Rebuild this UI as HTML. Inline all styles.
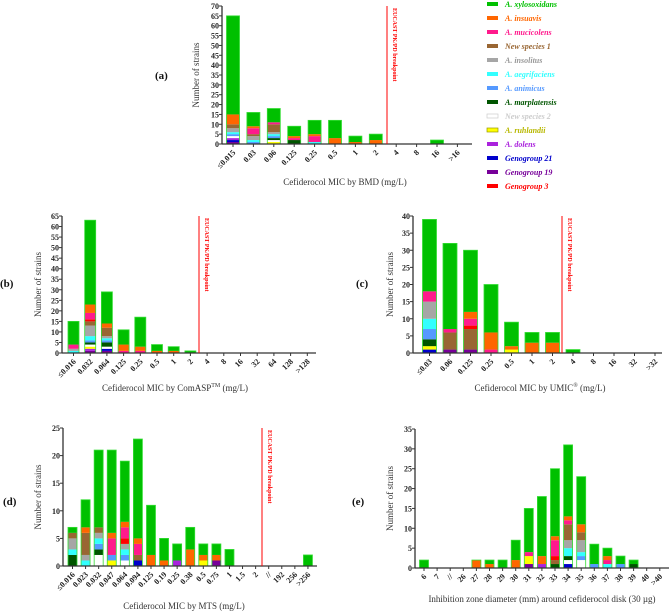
<!DOCTYPE html>
<html><head><meta charset="utf-8"><style>
html,body{margin:0;padding:0;background:#fff;}
svg{display:block;font-family:"Liberation Serif",serif;}
text{font-family:"Liberation Serif",serif;}
.tk{font-size:8px;font-weight:bold;fill:#222;}
.tt{font-size:9px;fill:#333;}
.pl{font-size:11px;font-weight:bold;fill:#111;}
.lg{font-size:8px;font-weight:bold;font-style:italic;}
.bp{font-size:6px;font-weight:bold;fill:#f00;}
</style></head><body>
<svg id="chart" width="669" height="613" viewBox="0 0 669 613" font-family="Liberation Serif, serif"></svg>
<script>
const speciesNames=["A. xylosoxidans","A. insuavis","A. mucicolens","New species 1","A. insolitus","A. aegrifaciens","A. animicus","A. marplatensis","New species 2","A. ruhlandii","A. dolens","Genogroup 21","Genogroup 19","Genogroup 3"];
const speciesColors=["#00c000","#ff6600","#ff1a8c","#996633","#a6a6a6","#33ffff","#5599ff","#005500","#ffffff","#ffff00","#aa22dd","#0000cc","#770099","#ff0000"];
const stackOrder=[12,11,10,9,8,7,6,5,4,3,13,2,1,0];

const catsA=["≤0.015","0.03","0.06","0.125","0.25","0.5","1","2","4","8","16",">16"];
const countsA=[
 [[12,1],[11,1],[10,1],[8,1],[6,1],[5,1],[4,2],[3,2],[1,5],[0,50]],
 [[6,1],[5,1],[4,2],[3,1],[2,3],[0,7],[1,1]],
 [[9,1],[8,1],[7,1],[6,1],[5,1],[4,1],[3,4],[2,1],[0,7]],
 [[7,2],[2,1],[1,1],[0,5]],
 [[5,1],[2,3],[1,1],[0,7]],
 [[1,3],[0,9]],
 [[1,1],[0,3]],
 [[1,2],[0,3]],
 [],[],[[0,2]],[]
];
const ticksA=[0,5,10,15,20,25,30,35,40,45,50,55,60,65,70];

const catsB=["≤0.016","0.032","0.064","0.125","0.25","0.5","1","2","4","8","16","32","64","128",">128"];
const countsB=[
 [[5,1],[4,1],[2,2],[0,11]],
 [[12,1],[10,1],[9,1],[8,1],[7,1],[6,1],[5,2],[4,5],[3,2],[13,1],[2,3],[1,4],[0,40]],
 [[12,1],[11,1],[8,1],[7,2],[6,1],[5,1],[4,1],[3,4],[1,2],[0,15]],
 [[2,1],[1,3],[0,7]],
 [[2,1],[1,2],[0,14]],
 [[1,1],[0,3]],
 [[1,1],[0,2]],
 [[0,1]],[],[],[],[],[],[],[]
];
const ticksB=[0,5,10,15,20,25,30,35,40,45,50,55,60,65];

const catsC=["≤0.03","0.06","0.125","0.25","0.5","1","2","4","8","16","32",">32"];
const countsC=[
 [[11,1],[9,1],[7,2],[6,3],[5,3],[4,5],[2,3],[0,21]],
 [[12,1],[3,5],[2,1],[0,25]],
 [[12,1],[3,6],[2,2],[13,1],[1,2],[0,18]],
 [[2,1],[1,5],[0,14]],
 [[9,1],[1,1],[0,7]],
 [[1,3],[0,3]],
 [[1,3],[0,3]],
 [[0,1]],[],[],[],[]
];
const ticksC=[0,5,10,15,20,25,30,35,40];

const catsD=["≤0.016","0.023","0.032","0.047","0.064","0.094","0.125","0.19","0.25","0.38","0.5","0.75","1","1.5","2","//","192","256",">256"];
const countsD=[
 [[7,2],[5,1],[4,2],[3,1],[0,1]],
 [[5,1],[4,1],[3,4],[1,1],[0,5]],
 [[8,2],[7,1],[6,1],[5,1],[4,1],[3,1],[0,14]],
 [[9,1],[6,1],[2,3],[1,1],[0,15]],
 [[8,1],[6,1],[5,1],[4,1],[2,2],[13,1],[1,1],[0,11]],
 [[11,1],[3,1],[2,2],[1,1],[0,18]],
 [[1,2],[0,9]],
 [[1,1],[0,4]],
 [[10,1],[0,3]],
 [[1,3],[0,4]],
 [[9,1],[1,1],[0,2]],
 [[12,1],[1,1],[0,2]],
 [[0,3]],[],[],[],[],[],[[0,2]]
];
const ticksD=[0,5,10,15,20,25];

const catsE=["6","7","//","26","27","28","29","30","31","32","33","34","35","36","37","38","39","40",">40"];
const countsE=[
 [[0,2]],[],[],[],
 [[1,2]],
 [[1,1],[0,1]],
 [[0,2]],
 [[1,2],[0,5]],
 [[12,1],[9,2],[2,1],[0,11]],
 [[10,1],[1,2],[0,15]],
 [[7,1],[3,1],[2,4],[13,1],[1,1],[0,17]],
 [[11,1],[8,1],[7,1],[5,2],[4,2],[3,4],[2,1],[1,1],[0,18]],
 [[8,2],[6,1],[5,1],[4,3],[3,2],[1,2],[0,12]],
 [[6,1],[0,5]],
 [[5,1],[2,1],[1,1],[0,2]],
 [[6,1],[0,2]],
 [[7,1],[0,1]],
 [],[]
];
const ticksE=[0,5,10,15,20,25,30,35];

const NS="http://www.w3.org/2000/svg";
const svg=document.getElementById('chart');
function mk(tag,attrs,parent,txt){const e=document.createElementNS(NS,tag);for(const k in attrs)e.setAttribute(k,attrs[k]);if(txt!==undefined)e.textContent=txt;(parent||svg).appendChild(e);return e;}

function panel(cfg){
  const g=mk('g',{});
  
  
  const yMax=cfg.ticks[cfg.ticks.length-1];
  const yS=v=>cfg.y0-(cfg.y0-cfg.yTop)*v/yMax;
  const xS=i=>cfg.x0c+i*cfg.step;
  cfg.counts.forEach((bar,i)=>{
    let acc=0;
    const sorted=bar.slice().sort((a,b)=>stackOrder.indexOf(a[0])-stackOrder.indexOf(b[0]));
    sorted.forEach(([sp,n])=>{
      const r=mk('rect',{x:xS(i)-cfg.bw/2,y:yS(acc+n),width:cfg.bw,height:yS(acc)-yS(acc+n),fill:speciesColors[sp]},g);
      
      
      acc+=n;
    });
    if(acc>0){const o=mk('rect',{x:xS(i)-cfg.bw/2,y:yS(acc),width:cfg.bw,height:yS(0)-yS(acc),fill:'none',stroke:'#33dd33','stroke-width':0.8},g);
      
      }
  });
  const ya=mk('line',{x1:cfg.ax,y1:cfg.yTop,x2:cfg.ax,y2:cfg.y0,stroke:'#333','stroke-width':1.3},g);
  
  const xa=mk('line',{x1:cfg.ax,y1:cfg.y0,x2:cfg.axEnd,y2:cfg.y0,stroke:'#333','stroke-width':1.3},g);
  
  cfg.ticks.forEach(t=>{
    mk('line',{x1:cfg.ax-3,y1:yS(t),x2:cfg.ax,y2:yS(t),stroke:'#333','stroke-width':1},g);
    const tl=mk('text',{x:cfg.ax-3,y:yS(t)+3,'text-anchor':'end',class:'tk'},g,String(t));
    
  });
  cfg.cats.forEach((c,i)=>{
    mk('line',{x1:xS(i),y1:cfg.y0,x2:xS(i),y2:cfg.y0+3,stroke:'#333','stroke-width':1},g);
    const tx=xS(i)+3,ty=cfg.y0+9;
    const tl=mk('text',{x:tx,y:ty,'text-anchor':'end',class:'tk',transform:`rotate(-45 ${tx} ${ty})`},g,c);
    
  });
  const yt=mk('text',{x:cfg.ytx,y:(cfg.yTop+cfg.y0)/2,'text-anchor':'middle',class:'tt',transform:`rotate(-90 ${cfg.ytx} ${(cfg.yTop+cfg.y0)/2})`},g,'Number of strains');
  
  const xt=mk('text',{x:cfg.xtx,y:cfg.xty,'text-anchor':'middle',class:'tt'},g);
  
  xt.textContent=cfg.xtitle;
  if(cfg.sup){mk('tspan',{dy:-4,'font-size':'6px'},xt,cfg.sup);mk('tspan',{dy:4},xt,' (mg/L)');}
  const pl=mk('text',{x:cfg.plx,y:cfg.ply,class:'pl'},g,'('+cfg.id+')');
  
  if(cfg.red){
    const rl=mk('line',{x1:cfg.red,y1:cfg.yTop,x2:cfg.red,y2:cfg.y0,stroke:'#ff0000','stroke-width':1},g);
    
    const bx=cfg.red+6,by=cfg.yTop+2;
    const bt=mk('text',{x:bx,y:by,class:'bp',transform:`rotate(90 ${bx} ${by})`},g,'EUCAST PK/PD breakpoint');
    
  }
}

panel({id:'a',cats:catsA,counts:countsA,ticks:ticksA,ax:222,axEnd:472,yTop:6,y0:144,x0c:233,step:20.4,bw:13,red:387,ytx:199,xtx:345,xty:185,xtitle:'Cefiderocol MIC by BMD (mg/L)',plx:155,ply:79});
panel({id:'b',cats:catsB,counts:countsB,ticks:ticksB,ax:62,axEnd:316,yTop:216,y0:353,x0c:73.5,step:16.7,bw:11,red:199,ytx:41,xtx:175,xty:391,xtitle:'Cefiderocol MIC by ComASP',sup:'TM',plx:0,ply:287});
panel({id:'c',cats:catsC,counts:countsC,ticks:ticksC,ax:413,axEnd:662,yTop:216,y0:353,x0c:429.5,step:20.5,bw:14,red:562,ytx:393,xtx:540,xty:391,xtitle:'Cefiderocol MIC by UMIC',sup:'®',plx:356,ply:287});
panel({id:'d',cats:catsD,counts:countsD,ticks:ticksD,ax:63,axEnd:317,yTop:428,y0:566,x0c:72.5,step:13.08,bw:9,red:262,ytx:41,xtx:184,xty:609,xtitle:'Cefiderocol MIC by MTS (mg/L)',plx:3,ply:505});
panel({id:'e',cats:catsE,counts:countsE,ticks:ticksE,ax:415,axEnd:669,yTop:429,y0:568,x0c:424,step:13.1,bw:9,red:0,ytx:393,xtx:542,xty:602,xtitle:'Inhibition zone diameter (mm) around cefiderocol disk (30 µg)',plx:352,ply:505});

const lg=mk('g',{});


speciesNames.forEach((n,i)=>{
  const y=4+i*14;
  const sw=mk('rect',{x:487,y:y-2,width:11,height:4,fill:speciesColors[i],stroke:i===8?'#ccc':(i===9?'#999900':'none'),'stroke-width':0.7},lg);
  
  const it=!(n.startsWith('New')||n.startsWith('Geno'));
  const t=mk('text',{x:505,y:y+3,class:'lg','font-style':it?'italic':'normal',fill:i===8?'#cccccc':(i===9?'#b8b800':(i===4?'#999':speciesColors[i]))},lg,n);
  
});
</script>
</body></html>
